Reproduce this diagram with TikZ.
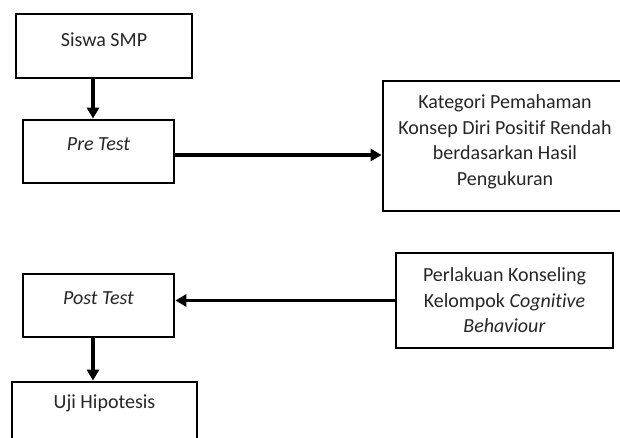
\documentclass[tikz,border=0pt]{standalone}
\usepackage{fontspec}
\setmainfont[Ligatures=NoCommon]{Carlito}
\usetikzlibrary{arrows.meta}

\begin{document}
\begin{tikzpicture}[x=1pt, y=-1pt, >={Triangle[length=11pt,width=12pt]},
    kotak/.style 2 args={draw, line width=2.8pt, minimum width=#1, minimum height=#2,
        inner sep=0pt, align=center, text=black!85, font=\fontsize{20}{25.5}\selectfont},
    ruang/.style={execute at end node={\rule[-#1]{0pt}{#1}}},
    panah/.style={->, line width=3.5pt}]
    % Bingkai gambar (ukuran 620 x 437)
    \useasboundingbox (0,0) rectangle (620,437);

    % Kotak-kotak alur penelitian
    \node[kotak={176pt}{64pt}, ruang=12pt] (siswa) at (104,46) {Siswa SMP};
    \node[kotak={151pt}{63pt}, ruang=15pt] (pretest) at (98.5,151.5) {\itshape Pre Test};
    \node[kotak={244pt}{130pt}, ruang=12pt] (kategori) at (505,146)
        {Kategori Pemahaman\\Konsep Diri Positif Rendah\\berdasarkan Hasil\\Pengukuran};
    \node[kotak={151pt}{63pt}, ruang=15pt] (posttest) at (98.5,305.5) {\itshape Post Test};
    \node[kotak={217pt}{95pt}] (perlakuan) at (504.5,300.5)
        {Perlakuan Konseling\\Kelompok \textit{Cognitive}\\\textit{Behaviour}};
    \node[kotak={185pt}{64pt}, ruang=24pt] (uji) at (104.5,414) {Uji Hipotesis};

    % Panah penghubung
    \draw[panah] ([xshift=-11pt]siswa.south) -- ([xshift=-11pt]siswa.south |- pretest.north);
    \draw[panah] ([yshift=-3.5pt]pretest.east) -- ([yshift=-3.5pt]pretest.east -| kategori.west);
    \draw[panah] (perlakuan.west) -- (perlakuan.west -| posttest.east);
    \draw[panah] ([xshift=-5.5pt]posttest.south) -- ([xshift=-5.5pt]posttest.south |- uji.north);
\end{tikzpicture}
\end{document}
